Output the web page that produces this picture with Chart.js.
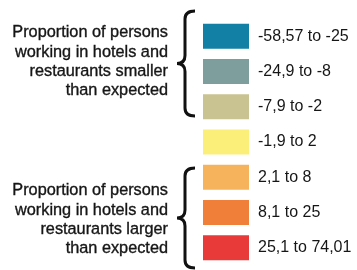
<!DOCTYPE html>
<html>
<head>
<meta charset="utf-8">
<script src="https://cdn.jsdelivr.net/npm/chart.js@4"></script>
<style>
  html, body { margin: 0; padding: 0; background: #fff; overflow: hidden; }
  #wrap { position: absolute; left: 0; top: 0; width: 357px; height: 284px; }
</style>
</head>
<body>
<div id="wrap"><canvas id="legendChart"></canvas></div>
<script>
// legend classes (top to bottom)
const classLabels = ['-58,57 to -25', '-24,9 to -8', '-7,9 to -2', '-1,9 to 2', '2,1 to 8', '8,1 to 25', '25,1 to 74,01'];
const classColors = ['#127fa5', '#7e9d9d', '#c8c390', '#fbef7a', '#f6b35c', '#f08039', '#e83a39'];
const swatchValues = [1, 1, 1, 1, 1, 1, 1];

// side notes, each spanning a range of classes
const smallerText = ['Proportion of persons', 'working in hotels and', 'restaurants smaller', 'than expected'];
const largerText = ['Proportion of persons', 'working in hotels and', 'restaurants larger', 'than expected'];

const textFont = '16.3px "Liberation Sans", Arial, sans-serif';

function drawBrace(ctx, x, top, bottom) {
    const xs = x - 10, xp = x - 18, mid = (top + bottom) / 2, r = 8;
    ctx.beginPath();
    ctx.moveTo(x, top);
    ctx.quadraticCurveTo(xs, top, xs, top + r);
    ctx.lineTo(xs, mid - r);
    ctx.quadraticCurveTo(xs, mid, xp, mid);
    ctx.quadraticCurveTo(xs, mid, xs, mid + r);
    ctx.lineTo(xs, bottom - r);
    ctx.quadraticCurveTo(xs, bottom, x, bottom);
    ctx.stroke();
}

const sideNotes = {
    id: 'sideNotes',
    afterDraw(chart) {
        const ctx = chart.ctx;
        ctx.save();
        ctx.fillStyle = '#161616';
        ctx.strokeStyle = '#161616';
        ctx.lineWidth = 0.35;
        ctx.font = textFont;
        ctx.textAlign = 'right';
        ctx.textBaseline = 'middle';
        const put = (t, y) => { ctx.fillText(t, 168, y); ctx.strokeText(t, 168, y); };
        smallerText.forEach((t, i) => put(t, 33 + i * 19.3));
        largerText.forEach((t, i) => put(t, 191 + i * 19.2));
        ctx.strokeStyle = '#111';
        ctx.lineWidth = 3;
        drawBrace(ctx, 195, 11, 116);
        drawBrace(ctx, 195, 168, 268);
        ctx.restore();
    }
};

new Chart(document.getElementById('legendChart').getContext('2d'), {
    type: 'bar',
    data: {
        labels: classLabels,
        datasets: [{
            data: swatchValues,
            backgroundColor: classColors,
            borderWidth: 0,
            barThickness: 24.5
        }]
    },
    options: {
        indexAxis: 'y',
        responsive: true,
        maintainAspectRatio: false,
        animation: false,
        layout: { padding: { left: 203, top: 4, bottom: 4, right: 0 } },
        plugins: { legend: { display: false }, tooltip: { enabled: false } },
        scales: {
            x: { display: false, min: 0, max: 1 },
            y: {
                position: 'right',
                grid: { display: false, drawTicks: false },
                border: { display: false },
                ticks: {
                    color: '#161616',
                    padding: 9,
                    font: { family: '"Liberation Sans", Arial, sans-serif', size: 16 }
                },
                afterFit(scale) { scale.width = 108; }
            }
        }
    },
    plugins: [sideNotes]
});
</script>
</body>
</html>
